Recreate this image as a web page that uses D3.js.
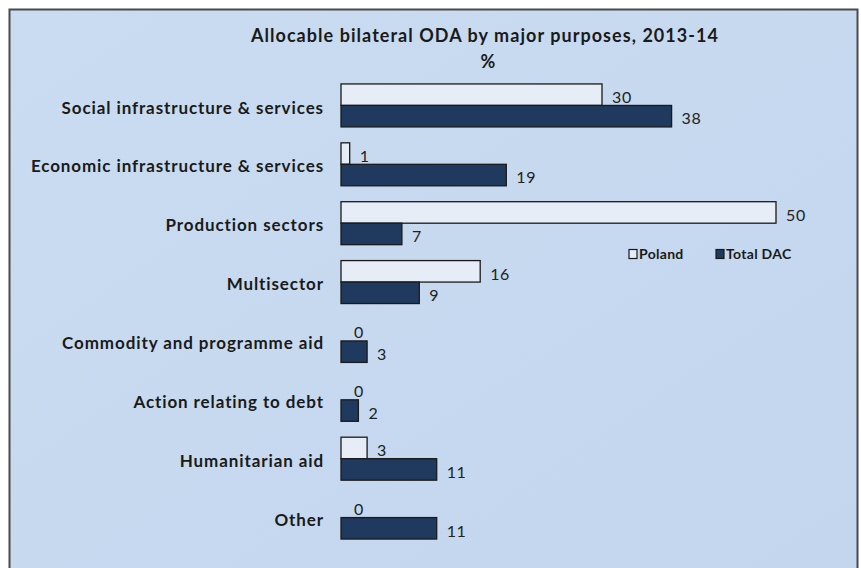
<!DOCTYPE html>
<html>
<head>
<meta charset="utf-8">
<script src="https://cdn.jsdelivr.net/npm/d3@7"></script>
<style>
  html, body { margin: 0; padding: 0; background: #ffffff; }
  svg { display: block; }
</style>
</head>
<body>
<svg id="chart" width="861" height="568"></svg>
<script>
// Allocable bilateral ODA by major purposes, 2013-14 (% shares)
const categories = [
  "Social infrastructure & services",
  "Economic infrastructure & services",
  "Production sectors",
  "Multisector",
  "Commodity and programme aid",
  "Action relating to debt",
  "Humanitarian aid",
  "Other"
];
const seriesNames = ["Poland", "Total DAC"];
const poland   = [30, 1, 50, 16, 0, 0, 3, 0];
const totalDAC = [38, 19, 7, 9, 3, 2, 11, 11];
const titleText = "Allocable bilateral ODA by major purposes, 2013-14";
const unitText = "%";

const svg = d3.select("#chart");
const font = "Lato, 'Open Sans', sans-serif";

// frame with soft blue fill
const defs = svg.append("defs");
const grad = defs.append("linearGradient").attr("id", "bg").attr("x1", 0).attr("y1", 0).attr("x2", 1).attr("y2", 1);
grad.append("stop").attr("offset", "0%").attr("stop-color", "#cadcf1");
grad.append("stop").attr("offset", "100%").attr("stop-color", "#c3d6ee");

svg.append("rect")
  .attr("x", 9.5).attr("y", 9.5).attr("width", 848).attr("height", 570)
  .attr("fill", "url(#bg)").attr("stroke", "#4a4a4a").attr("stroke-width", 2);

// title
svg.append("text").attr("x", 485).attr("y", 41.5)
  .attr("text-anchor", "middle").attr("font-family", font).attr("font-weight", "bold")
  .attr("font-size", 18).attr("letter-spacing", 1.05).attr("fill", "#1a1a1a").text(titleText);
svg.append("text").attr("x", 488).attr("y", 67.5)
  .attr("text-anchor", "middle").attr("font-family", font).attr("font-weight", "bold")
  .attr("font-size", 18).attr("fill", "#1a1a1a").text(unitText);

// scales
const x = d3.scaleLinear().domain([0, 50]).range([341, 776]);
const y = d3.scaleBand().domain(categories).range([76, 547]).paddingInner(0.27).paddingOuter(0.135);
const sub = d3.scaleBand().domain(seriesNames).range([0, y.bandwidth()]);
const colors = { "Poland": "#e6edf6", "Total DAC": "#1f3a5e" };

// category labels
svg.append("g").selectAll("text").data(categories).join("text")
  .attr("x", 324).attr("y", d => y(d) + y.bandwidth() / 2 + 2)
  .attr("dy", "0.36em").attr("text-anchor", "end")
  .attr("font-family", font).attr("font-weight", "bold").attr("font-size", 17)
  .attr("letter-spacing", 0.9)
  .attr("fill", "#1a1a1a").text(d => d);

const rows = categories.map((c, i) => ({ c, vals: [
  { s: "Poland", v: poland[i] }, { s: "Total DAC", v: totalDAC[i] }
]}));

const g = svg.append("g").selectAll("g").data(rows).join("g")
  .attr("transform", d => `translate(0,${y(d.c)})`);

g.selectAll("rect").data(d => d.vals.filter(e => e.v > 0)).join("rect")
  .attr("x", x(0))
  .attr("y", d => sub(d.s))
  .attr("width", d => x(d.v) - x(0))
  .attr("height", sub.bandwidth())
  .attr("fill", d => colors[d.s])
  .attr("stroke", "#1a1a1a").attr("stroke-width", 1.3);

g.selectAll("text").data(d => d.vals).join("text")
  .attr("x", d => (d.v > 0 ? x(d.v) + 10 : x(0) + 13))
  .attr("y", d => sub(d.s) + sub.bandwidth() / 2 + 2.5)
  .attr("dy", "0.36em")
  .attr("font-family", font).attr("font-size", 16).attr("letter-spacing", 0.6)
  .attr("fill", "#222").text(d => d.v);

// legend
const legend = svg.append("g");
const legendItems = [{ s: "Poland", x: 629 }, { s: "Total DAC", x: 716 }];
legend.selectAll("rect").data(legendItems).join("rect")
  .attr("x", d => d.x).attr("y", 249.5).attr("width", 8).attr("height", 9)
  .attr("fill", d => colors[d.s]).attr("stroke", "#1a1a1a").attr("stroke-width", 1.2);
legend.selectAll("text").data(legendItems).join("text")
  .attr("x", d => d.x + 10).attr("y", 254).attr("dy", "0.36em")
  .attr("font-family", font).attr("font-weight", "bold").attr("font-size", 14)
  .attr("letter-spacing", 0.3)
  .attr("fill", "#1a1a1a").text(d => d.s);
</script>
</body>
</html>
